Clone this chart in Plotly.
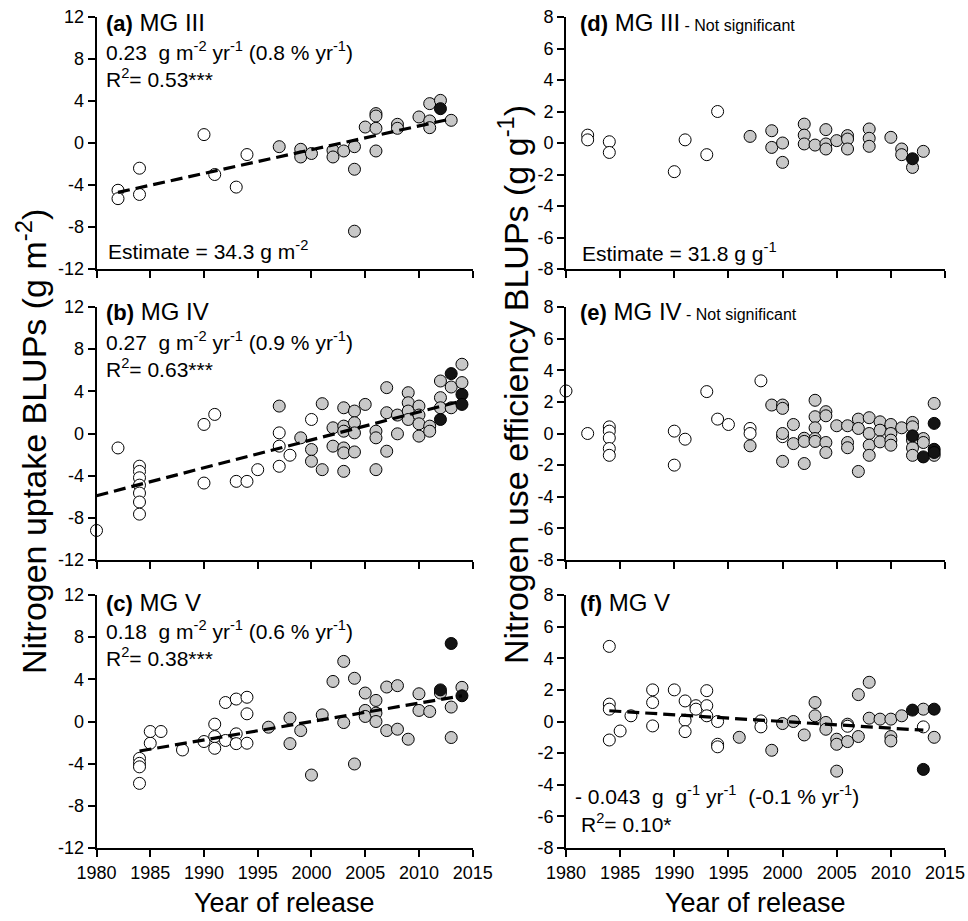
import plotly.graph_objects as go

W, H = 968, 921
FONT = "Liberation Sans, Arial, Helvetica, sans-serif"

# ---------------- data ----------------
x_ticks = [1980, 1985, 1990, 1995, 2000, 2005, 2010, 2015]
left_y_ticks = [-12, -8, -4, 0, 4, 8, 12]
right_y_ticks = [-8, -6, -4, -2, 0, 2, 4, 6, 8]

# (a) MG III - N uptake
a_open_x = [1982, 1982, 1984, 1984, 1990, 1991, 1993, 1994]
a_open_y = [-4.5, -5.3, -2.4, -4.9, 0.8, -3.0, -4.2, -1.1]
a_gray_x = [1997, 1999, 1999, 2000, 2002, 2002, 2003, 2004, 2004, 2004, 2005, 2006, 2006, 2006, 2006,
            2008, 2008, 2010, 2011, 2011, 2011, 2012, 2013]
a_gray_y = [-0.35, -0.6, -1.33, -1.0, -0.7, -1.33, -0.76, -0.35, -2.5, -8.4, 1.52, 2.8, 2.57, 1.4, -0.76,
            1.78, 1.4, 2.48, 2.1, 1.46, 3.75, 4.06, 2.16]
a_black_x = [2012]
a_black_y = [3.27]
a_trend_x = [1982, 2013]
a_trend_y = [-4.7, 2.3]

# (b) MG IV - N uptake
b_open_x = [1980, 1982, 1984, 1984, 1984, 1984, 1984, 1984, 1984, 1990, 1990, 1991, 1993, 1994, 1995,
            1997, 1997, 1997, 1998, 2000]
b_open_y = [-9.2, -1.37, -3.1, -3.6, -4.2, -4.9, -5.65, -6.5, -7.65, 0.86, -4.7, 1.81, -4.54, -4.54, -3.43,
            0.06, -1.2, -3.11, -2.06, 1.33]
b_gray_x = [1997, 1999, 2000, 2000, 2001, 2001, 2002, 2002, 2003, 2003, 2003, 2003, 2003, 2003,
            2004, 2004, 2004, 2004, 2005, 2006, 2006, 2006, 2007, 2007, 2007, 2008, 2008,
            2009, 2009, 2009, 2009, 2010, 2010, 2010, 2010, 2011, 2011, 2012, 2012, 2012,
            2013, 2013, 2014, 2014]
b_gray_y = [2.6, -0.41, -1.52, -2.63, 2.83, -3.43, 0.54, -1.2, 2.44, 0.7, 0.22, -1.37, -1.84, -3.59,
            2.13, 1.02, 0.06, -1.75, 2.76, 0.22, -0.41, -3.43, 4.35, 1.97, -1.68, 1.75, -0.03,
            3.87, 2.92, 2.13, 1.33, 2.6, 1.75, 0.92, -0.25, 0.7, 0.22, 4.98, 3.4, 2.44,
            4.41, 2.44, 6.57, 4.83]
b_black_x = [2012, 2013, 2014, 2014]
b_black_y = [1.33, 5.68, 3.71, 2.76]
b_trend_x = [1980, 2014]
b_trend_y = [-5.9, 3.1]

# (c) MG V - N uptake
c_open_x = [1984, 1984, 1984, 1984, 1985, 1985, 1986, 1988, 1990, 1991, 1991, 1991, 1992, 1992,
            1993, 1993, 1993, 1994, 1994, 1994]
c_open_y = [-3.5, -3.97, -4.3, -5.87, -2.06, -0.95, -0.95, -2.7, -1.9, -0.25, -1.43, -2.54, 1.8, -1.8,
            2.13, -1.17, -2.1, 2.3, 0.73, -2.06]
c_gray_x = [1996, 1998, 1998, 1999, 2000, 2001, 2002, 2003, 2003, 2004, 2004, 2005, 2005, 2005,
            2006, 2006, 2006, 2007, 2007, 2008, 2008, 2009, 2010, 2010, 2011, 2012, 2013, 2013, 2014]
c_gray_y = [-0.54, 0.32, -2.1, -0.86, -5.08, 0.63, 3.8, 5.7, -0.1, 4.1, -4.03, 2.7, 1.05, 0.48,
            2.0, 0.8, 0.0, 3.27, -0.86, 3.4, -0.73, -1.68, 2.63, 1.05, 0.95, 2.7, 1.37, -1.52, 3.24]
c_black_x = [2012, 2013, 2014]
c_black_y = [3.0, 7.4, 2.44]
c_trend_x = [1984, 2014]
c_trend_y = [-2.8, 2.44]

# (d) MG III - NUE
d_open_x = [1982, 1982, 1984, 1984, 1990, 1991, 1993, 1994]
d_open_y = [0.5, 0.2, 0.08, -0.6, -1.82, 0.2, -0.74, 2.0]
d_gray_x = [1997, 1999, 1999, 2000, 2000, 2002, 2002, 2002, 2003, 2004, 2004, 2004, 2005,
            2006, 2006, 2006, 2008, 2008, 2008, 2010, 2011, 2011, 2012, 2013]
d_gray_y = [0.42, 0.78, -0.28, 0.0, -1.23, 1.2, 0.5, -0.06, -0.13, 0.85, -0.06, -0.38, 0.15,
            0.47, 0.25, -0.38, 0.89, 0.3, -0.21, 0.36, -0.38, -0.74, -1.55, -0.53]
d_black_x = [2012]
d_black_y = [-1.0]

# (e) MG IV - NUE
e_open_x = [1980, 1982, 1984, 1984, 1984, 1984, 1984, 1990, 1990, 1991, 1993, 1994, 1995,
            1997, 1997, 1998, 2000]
e_open_y = [2.69, 0.0, 0.42, 0.15, -0.28, -0.95, -1.38, 0.15, -2.0, -0.36, 2.65, 0.91, 0.57,
            0.32, 0.0, 3.33, -0.2]
e_gray_x = [1997, 1999, 2000, 2000, 2000, 2000, 2001, 2001, 2002, 2002, 2002,
            2003, 2003, 2003, 2003, 2003, 2004, 2004, 2004, 2004, 2005, 2006, 2006, 2006,
            2007, 2007, 2007, 2008, 2008, 2008, 2008, 2009, 2009, 2009,
            2010, 2010, 2010, 2010, 2011, 2012, 2012, 2012, 2012, 2012, 2013, 2013, 2014, 2014]
e_gray_y = [-0.78, 1.8, 1.8, 1.59, 0.0, -1.76, 0.57, -0.64, -0.3, -0.5, -1.9,
            2.1, 1.06, 0.36, -0.32, -0.5, 1.38, 1.12, -0.57, -1.2, 0.49, 0.49, -0.57, -0.9,
            0.91, 0.32, -2.4, 1.0, 0.0, -0.74, -1.38, 0.74, 0.21, -0.53,
            0.57, 0.0, -0.42, -0.74, 0.36, 0.7, 0.42, -0.42, -0.91, -1.38, -0.32, -0.57, 1.9, -1.38]
e_black_x = [2012, 2013, 2014, 2014, 2014]
e_black_y = [-0.15, -1.48, 0.64, -1.0, -1.2]

# (f) MG V - NUE
f_open_x = [1984, 1984, 1984, 1984, 1985, 1986, 1988, 1988, 1988, 1990, 1991, 1991, 1991,
            1992, 1992, 1993, 1993, 1993, 1994, 1994, 1994, 1998, 1998]
f_open_y = [4.75, 1.1, 0.78, -1.17, -0.6, 0.36, 2.0, 1.2, -0.28, 2.0, 1.3, 0.08, -0.64,
            1.0, 0.78, 1.95, 1.0, 0.36, 0.0, -1.44, -1.6, 0.04, -0.34]
f_gray_x = [1996, 1999, 2000, 2001, 2002, 2003, 2003, 2004, 2004, 2005, 2005, 2005,
            2006, 2006, 2007, 2007, 2008, 2008, 2009, 2010, 2010, 2010, 2011, 2013, 2014]
f_gray_y = [-1.0, -1.82, -0.13, 0.0, -0.85, 1.2, 0.36, -0.06, -0.49, -1.12, -1.44, -3.14,
            -0.17, -1.27, 1.7, -0.95, 2.48, 0.21, 0.15, 0.15, -0.95, -1.23, 0.36, 0.78, -1.0]
f_open2_x = [2006, 2013]
f_open2_y = [-0.3, -0.34]
f_black_x = [2012, 2013, 2014]
f_black_y = [0.72, -3.03, 0.78]
f_trend_x = [1984, 2013]
f_trend_y = [0.68, -0.55]

# ---------------- layout geometry (pixels) ----------------
col_px = {"L": (96.5, 472.7), "R": (566.0, 945.0)}
row_px = [(17.0, 269.0), (307.0, 560.0), (595.0, 848.0)]


def xd(px0, px1):
    return [px0 / W, px1 / W]


def yd(py0, py1):
    return [1 - py1 / H, 1 - py0 / H]


def px(x):
    return x / W


def py(y):
    return 1 - y / H


fig = go.Figure()

OPEN_C = "white"
GRAY_C = "#c8c8c8"
BLACK_C = "#141414"
MSIZE = 12


def add_pts(xs, ys, color, ax):
    fig.add_trace(go.Scatter(
        x=xs, y=ys, mode="markers", xaxis="x" + ax, yaxis="y" + ax,
        marker=dict(size=MSIZE, color=color, line=dict(color="black", width=1)),
        cliponaxis=False, showlegend=False, hoverinfo="x+y"))


def add_trend(xs, ys, ax):
    fig.add_trace(go.Scatter(
        x=xs, y=ys, mode="lines", xaxis="x" + ax, yaxis="y" + ax,
        line=dict(color="black", width=3.2, dash="12px,6px"),
        showlegend=False, hoverinfo="skip"))


panels = [
    ("1", "L", 0, [(a_open_x, a_open_y, OPEN_C), (a_gray_x, a_gray_y, GRAY_C), (a_black_x, a_black_y, BLACK_C)], (a_trend_x, a_trend_y)),
    ("2", "L", 1, [(b_open_x, b_open_y, OPEN_C), (b_gray_x, b_gray_y, GRAY_C), (b_black_x, b_black_y, BLACK_C)], (b_trend_x, b_trend_y)),
    ("3", "L", 2, [(c_open_x, c_open_y, OPEN_C), (c_gray_x, c_gray_y, GRAY_C), (c_black_x, c_black_y, BLACK_C)], (c_trend_x, c_trend_y)),
    ("4", "R", 0, [(d_open_x, d_open_y, OPEN_C), (d_gray_x, d_gray_y, GRAY_C), (d_black_x, d_black_y, BLACK_C)], None),
    ("5", "R", 1, [(e_open_x, e_open_y, OPEN_C), (e_gray_x, e_gray_y, GRAY_C), (e_black_x, e_black_y, BLACK_C)], None),
    ("6", "R", 2, [(f_open_x, f_open_y, OPEN_C), (f_gray_x, f_gray_y, GRAY_C), (f_open2_x, f_open2_y, OPEN_C), (f_black_x, f_black_y, BLACK_C)], (f_trend_x, f_trend_y)),
]

layout_axes = {}
for ax, col, row, groups, trend in panels:
    for xs, ys, c in groups:
        add_pts(xs, ys, c, ax)
    if trend is not None:
        add_trend(trend[0], trend[1], ax)
    key = "" if ax == "1" else ax
    x0, x1 = col_px[col]
    y0, y1 = row_px[row]
    layout_axes["xaxis" + key] = dict(
        domain=xd(x0, x1), anchor="y" + ax, range=[1980, 2015], automargin=False,
        tickvals=x_ticks, ticktext=[str(t) for t in x_ticks],
        showticklabels=(row == 2), ticks="outside", ticklen=7, tickwidth=1.5,
        tickcolor="black", showline=True, linecolor="black", linewidth=1.8,
        showgrid=False, zeroline=False,
        tickfont=dict(family=FONT, size=18, color="black"))
    yt = left_y_ticks if col == "L" else right_y_ticks
    layout_axes["yaxis" + key] = dict(
        domain=yd(y0, y1), anchor="x" + ax, range=[yt[0], yt[-1]], automargin=False,
        tickvals=yt, ticktext=[str(t) for t in yt], ticks="outside", ticklen=7,
        tickwidth=1.5, tickcolor="black", showline=True, linecolor="black",
        linewidth=1.8, showgrid=False, zeroline=False,
        tickfont=dict(family=FONT, size=18, color="black"))

fig.update_layout(**layout_axes)


def note(x, y, text, size=21, xanchor="left", angle=0):
    return dict(x=px(x), y=py(y), xref="paper", yref="paper", text=text, showarrow=False,
                xanchor=xanchor, yanchor="middle", textangle=angle,
                font=dict(family=FONT, size=size, color="black"))


def title(lbl, mg, extra=""):
    t = "<b>(%s)</b><span style='font-size:24px'> %s</span>" % (lbl, mg)
    if extra:
        t += "<span style='font-size:16px'> %s</span>" % extra
    return t


ann = [
    note(104, 22, title("a", "MG III"), size=22),
    note(104, 51, "0.23  g m<sup>-2</sup> yr<sup>-1</sup> (0.8 % yr<sup>-1</sup>)"),
    note(104, 78, "R<sup>2</sup>= 0.53***"),
    note(106, 250, "Estimate = 34.3 g m<sup>-2</sup>"),
    note(104, 312, title("b", "MG IV"), size=22),
    note(104, 341, "0.27  g m<sup>-2</sup> yr<sup>-1</sup> (0.9 % yr<sup>-1</sup>)"),
    note(104, 368, "R<sup>2</sup>= 0.63***"),
    note(104, 602, title("c", "MG V"), size=22),
    note(104, 630, "0.18  g m<sup>-2</sup> yr<sup>-1</sup> (0.6 % yr<sup>-1</sup>)"),
    note(104, 657, "R<sup>2</sup>= 0.38***"),
    note(578, 22, title("d", "MG III", "- Not significant"), size=22),
    note(580, 252, "Estimate = 31.8 g g<sup>-1</sup>"),
    note(578, 312, title("e", "MG IV", "- Not significant"), size=22),
    note(578, 602, title("f", "MG V"), size=22),
    note(573, 795, "- 0.043  g  g<sup>-1</sup> yr<sup>-1</sup>  (-0.1 % yr<sup>-1</sup>)"),
    note(579, 823, "R<sup>2</sup>= 0.10*"),
    note(284.6, 903, "Year of release", size=27, xanchor="center"),
    note(755.5, 903, "Year of release", size=27, xanchor="center"),
    dict(x=px(31), y=py(442), xref="paper", yref="paper", showarrow=False,
         text="Nitrogen uptake BLUPs (g m<sup>-2</sup>)", textangle=-90,
         xanchor="center", yanchor="middle", font=dict(family=FONT, size=34, color="black")),
    dict(x=px(514), y=py(385), xref="paper", yref="paper", showarrow=False,
         text="Nitrogen use efficiency BLUPs (g g<sup>-1</sup>)", textangle=-90,
         xanchor="center", yanchor="middle", font=dict(family=FONT, size=34, color="black")),
]

fig.update_layout(
    width=W, height=H, margin=dict(l=0, r=0, t=0, b=0, autoexpand=False),
    paper_bgcolor="white", plot_bgcolor="white", showlegend=False,
    annotations=ann, font=dict(family=FONT, color="black"))

fig.write_html("out.html", config={"displayModeBar": False},
               post_script="document.body.style.margin='0';")
